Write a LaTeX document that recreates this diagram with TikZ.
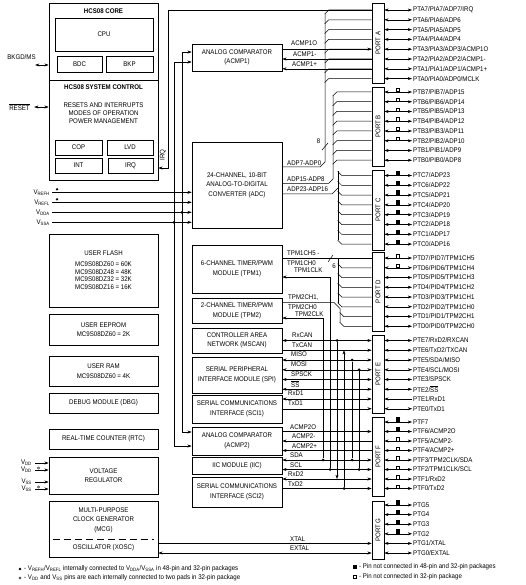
\documentclass[tikz,border=0pt]{standalone}
\usepackage{fontspec}
\setmainfont{Liberation Sans}[FakeStretch=0.9]
\usetikzlibrary{arrows.meta}
\newcommand{\dgfont}{\fontsize{6.8}{9.6}\selectfont}
\tikzset{
  blk/.style={draw, line width=0.7pt, inner sep=0pt, align=center, font=\dgfont},
  portbox/.style={draw, line width=0.7pt, minimum width=12, inner sep=0pt},
  sig/.style={line width=0.5pt},
  sglbl/.style={anchor=west, inner sep=0pt, font=\dgfont},
  pinlbl/.style={anchor=west, inner sep=1pt, font=\dgfont},
  opnmark/.style={draw, fill=white, line width=0.5pt, minimum width=3.4, minimum height=3.4, inner sep=0pt, anchor=south},
  filmark/.style={fill, minimum width=4, minimum height=4.4, inner sep=0pt, anchor=south},
  jdot/.style={circle, fill, inner sep=0pt, minimum size=3},
  refdot/.style={circle, fill, inner sep=0pt, minimum size=2.6},
  paddot/.style={circle, draw, line width=0.4pt, inner sep=0pt, minimum size=2.4}
}
\begin{document}
\begin{tikzpicture}[x=1pt,y=-1pt,>={Stealth[length=4.2pt,width=3pt]}]
  \path[use as bounding box, fill=white] (0,0) rectangle (526,585);

  % core and system control
  \node[blk, minimum width=109, minimum height=77] (core) at (103.5,41.5) {};
  \node[blk, minimum width=109, minimum height=100] (sysctl) at (103.5,130) {};
  \node[font=\dgfont\bfseries] (coret) at (103.5,11) {HCS08 CORE};
  \node[blk, minimum width=98, minimum height=33] (cpu) at (104,34.5) {CPU};
  \node[blk, minimum width=45, minimum height=16] (bdc) at (79.5,64) {BDC};
  \node[blk, minimum width=47, minimum height=16] (bkp) at (129.5,64) {BKP};
  \node[font=\dgfont\bfseries] (sysctlt) at (103.5,87) {HCS08 SYSTEM CONTROL};
  \node[font=\fontsize{6.8}{8}\selectfont, align=center] (sysctlx) at (103.5,113) {RESETS AND INTERRUPTS\\MODES OF OPERATION\\POWER MANAGEMENT};
  \node[blk, minimum width=47, minimum height=15] (cop) at (78.5,147.5) {COP};
  \node[blk, minimum width=46, minimum height=15] (lvd) at (130,147.5) {LVD};
  \node[blk, minimum width=47, minimum height=15] (intb) at (78.5,165.5) {INT};
  \node[blk, minimum width=45, minimum height=15] (irqb) at (130.5,165.5) {IRQ};

  % memories and left column
  \node[blk, minimum width=109, minimum height=73, font=\fontsize{6.8}{7.8}\selectfont] (flash) at (103.5,270.5) {USER FLASH\\[2.5pt]MC9S08DZ60 = 60K\\MC9S08DZ48 = 48K\\MC9S08DZ32 = 32K\\MC9S08DZ16 = 16K};
  \node[blk, minimum width=109, minimum height=31] (eeprom) at (103.5,329.5) {USER EEPROM\\MC9S08DZ60 = 2K};
  \node[blk, minimum width=109, minimum height=30] (ram) at (103.5,371) {USER RAM\\MC9S08DZ60 = 4K};
  \node[blk, minimum width=109, minimum height=20] (dbg) at (103.5,403) {DEBUG MODULE (DBG)};
  \node[blk, minimum width=109, minimum height=20] (rtc) at (103.5,439) {REAL-TIME COUNTER (RTC)};
  \node[blk, minimum width=109, minimum height=37] (vreg) at (103.5,475.5) {VOLTAGE\\REGULATOR};
  \node[blk, minimum width=109, minimum height=56] (mcg) at (103.5,529) {};
  \node[font=\dgfont, align=center] (mcgt) at (103.5,520) {MULTI-PURPOSE\\CLOCK GENERATOR\\(MCG)};
  \draw[dashed, dash pattern=on 7pt off 4pt, line width=0.7pt] ([xshift=4pt]mcg.west |- 0,539) -- ([xshift=-4pt]mcg.east |- 0,539);
  \node[font=\dgfont] (xosc) at (103.5,548) {OSCILLATOR (XOSC)};

  % peripheral modules
  \node[blk, minimum width=90, minimum height=27] (acmp1) at (237,57.5) {ANALOG COMPARATOR\\(ACMP1)};
  \node[blk, minimum width=90, minimum height=86] (adc) at (237,185) {24-CHANNEL, 10-BIT\\ANALOG-TO-DIGITAL\\CONVERTER (ADC)};
  \node[blk, minimum width=90, minimum height=48] (tpm1) at (237,269) {6-CHANNEL TIMER/PWM\\MODULE (TPM1)};
  \node[blk, minimum width=90, minimum height=25] (tpm2) at (237,310.5) {2-CHANNEL TIMER/PWM\\MODULE (TPM2)};
  \node[blk, minimum width=90, minimum height=25] (mscan) at (237,340.5) {CONTROLLER AREA\\NETWORK (MSCAN)};
  \node[blk, minimum width=90, minimum height=36] (spi) at (237,375) {SERIAL PERIPHERAL\\INTERFACE MODULE (SPI)};
  \node[blk, minimum width=90, minimum height=28] (sci1) at (237,409) {SERIAL COMMUNICATIONS\\INTERFACE (SCI1)};
  \node[blk, minimum width=90, minimum height=28] (acmp2) at (237,441) {ANALOG COMPARATOR\\(ACMP2)};
  \node[blk, minimum width=90, minimum height=17] (iic) at (237,465.5) {IIC MODULE (IIC)};
  \node[blk, minimum width=90, minimum height=30] (sci2) at (237,492) {SERIAL COMMUNICATIONS\\INTERFACE (SCI2)};

  % ports
  \node[portbox, minimum height=80] (portA) at (378,43) {};
  \node[portbox, minimum height=79] (portB) at (378,126.5) {};
  \node[portbox, minimum height=80] (portC) at (378,210) {};
  \node[portbox, minimum height=79] (portD) at (378,291.5) {};
  \node[portbox, minimum height=78] (portE) at (378,374) {};
  \node[portbox, minimum height=79] (portF) at (378,456.5) {};
  \node[portbox, minimum height=58] (portG) at (378,530) {};
  \node[rotate=90, font=\dgfont] (portAt) at (portA) {PORT A};
  \node[rotate=90, font=\dgfont] (portBt) at (portB) {PORT B};
  \node[rotate=90, font=\dgfont] (portCt) at (portC) {PORT C};
  \node[rotate=90, font=\dgfont] (portDt) at (portD) {PORT D};
  \node[rotate=90, font=\dgfont] (portEt) at (portE) {PORT E};
  \node[rotate=90, font=\dgfont] (portFt) at (portF) {PORT F};
  \node[rotate=90, font=\dgfont] (portGt) at (portG) {PORT G};

  % pins
  \foreach \txt [count=\k from 0] in {PTA7/PIA7/ADP7/IRQ, PTA6/PIA6/ADP6, PTA5/PIA5/ADP5, PTA4/PIA4/ADP4, PTA3/PIA3/ADP3/ACMP1O, PTA2/PIA2/ADP2/ACMP1-, PTA1/PIA1/ADP1/ACMP1+, PTA0/PIA0/ADP0/MCLK}{
    \pgfmathsetmacro\yy{10+9.8*\k}
    \node[pinlbl] (pa\k) at (412,\yy) {\txt};
    \draw[sig,<->] (portA.east |- pa\k.west) -- (pa\k.west);
  }
  \foreach \txt [count=\k from 0] in {PTB7/PIB7/ADP15, PTB6/PIB6/ADP14, PTB5/PIB5/ADP13, PTB4/PIB4/ADP12, PTB3/PIB3/ADP11, PTB2/PIB2/ADP10, PTB1/PIB1/ADP9, PTB0/PIB0/ADP8}{
    \pgfmathsetmacro\yy{92+9.75*\k}
    \node[pinlbl] (pb\k) at (412,\yy) {\txt};
    \draw[sig,<->] (portB.east |- pb\k.west) -- (pb\k.west);
  }
  \foreach \txt [count=\k from 0] in {PTC7/ADP23, PTC6/ADP22, PTC5/ADP21, PTC4/ADP20, PTC3/ADP19, PTC2/ADP18, PTC1/ADP17, PTC0/ADP16}{
    \pgfmathsetmacro\yy{175.5+9.8*\k}
    \node[pinlbl] (pc\k) at (412,\yy) {\txt};
    \draw[sig,<->] (portC.east |- pc\k.west) -- (pc\k.west);
  }
  \foreach \txt [count=\k from 0] in {PTD7/PID7/TPM1CH5, PTD6/PID6/TPM1CH4, PTD5/PID5/TPM1CH3, PTD4/PID4/TPM1CH2, PTD3/PID3/TPM1CH1, PTD2/PID2/TPM1CH0, PTD1/PID1/TPM2CH1, PTD0/PID0/TPM2CH0}{
    \pgfmathsetmacro\yy{258+9.75*\k}
    \node[pinlbl] (pd\k) at (412,\yy) {\txt};
    \draw[sig,<->] (portD.east |- pd\k.west) -- (pd\k.west);
  }
  \foreach \txt [count=\k from 0] in {PTE7/RxD2/RXCAN, PTE6/TxD2/TXCAN, PTE5/SDA/MISO, PTE4/SCL/MOSI, PTE3/SPSCK, PTE2/$\overline{\mbox{SS}}$, PTE1/RxD1, PTE0/TxD1}{
    \pgfmathsetmacro\yy{340.5+9.75*\k}
    \node[pinlbl] (pe\k) at (412,\yy) {\txt};
    \ifnum\k=6
      \draw[sig,<-] (portE.east |- pe\k.west) -- (pe\k.west);
    \else
      \draw[sig,<->] (portE.east |- pe\k.west) -- (pe\k.west);
    \fi
  }
  \foreach \txt [count=\k from 0] in {PTF7, PTF6/ACMP2O, PTF5/ACMP2-, PTF4/ACMP2+, PTF3/TPM2CLK/SDA, PTF2/TPM1CLK/SCL, PTF1/RxD2, PTF0/TxD2}{
    \pgfmathsetmacro\yy{422+9.5*\k}
    \node[pinlbl] (pf\k) at (412,\yy) {\txt};
    \draw[sig,<->] (portF.east |- pf\k.west) -- (pf\k.west);
  }
  \foreach \txt [count=\k from 0] in {PTG5, PTG4, PTG3, PTG2, PTG1/XTAL, PTG0/EXTAL}{
    \pgfmathsetmacro\yy{505+9.6*\k}
    \node[pinlbl] (pg\k) at (412,\yy) {\txt};
    \draw[sig,<->] (portG.east |- pg\k.west) -- (pg\k.west);
  }

  % package markers
  \foreach \k in {0,...,5} \node[opnmark] (mb\k) at (398,0 |- pb\k.west) {};
  \foreach \k in {0,...,7} \node[filmark] (mc\k) at (398,0 |- pc\k.west) {};
  \foreach \k in {0,1} \node[opnmark] (md\k) at (398,0 |- pd\k.west) {};
  \foreach \k in {0,1} \node[filmark] (mf\k) at (398,0 |- pf\k.west) {};
  \foreach \k in {2,...,7} \node[opnmark] (mf\k) at (398,0 |- pf\k.west) {};
  \foreach \k in {0,...,3} \node[filmark] (mg\k) at (398,0 |- pg\k.west) {};

  % port A: IRQ, ACMP1, ADP7-ADP0
  \draw[sig,->] (portA.west |- pa0.west) -| (168,168) -- (sysctl.east |- 0,168);
  \node[rotate=90, font=\dgfont] (irqlbl) at (163,155) {IRQ};
  \draw[sig,->] (acmp1.east |- pa4.west) -- (portA.west |- pa4.west);
  \draw[sig,<-] (acmp1.east |- pa5.west) -- (portA.west |- pa5.west);
  \draw[sig,<-] (acmp1.east |- pa6.west) -- (portA.west |- pa6.west);
  \node[sglbl] (l1) at (291,43.5) {ACMP1O};
  \node[sglbl] (l2) at (293,54) {ACMP1-};
  \node[sglbl] (l3) at (292,64) {ACMP1+};
  \foreach \k in {0,...,7} \draw[sig] (portA.west |- pa\k.west) -- ++(-43,0) -- ++(-4,4);
  \draw[sig] (325,14) -- (325,162) -- (320,167) -- (adc.east |- 0,167);
  \draw[sig] (322,150) -- (328,143);
  \node[font=\dgfont] (bus8) at (318.5,141) {8};
  \node[sglbl] (l4) at (287,163) {ADP7-ADP0};

  % port B and C buses
  \foreach \k in {0,...,7} \draw[sig] (portB.west |- pb\k.west) -- ++(-35,0) -- ++(-4,4);
  \draw[sig] (333,96) -- (333,179) -- (328.5,183.5) -- (adc.east |- 0,183.5);
  \node[sglbl] (l5) at (287,179) {ADP15-ADP8};
  \foreach \k in {0,...,7} \draw[sig] (portC.west |- pc\k.west) -- ++(-30,0) -- ++(-4,-4);
  \draw[sig] (338,171.5) -- (338,240.1);
  \draw[sig] (adc.east |- 0,194) -- (332,194) -- (338,188);
  \node[sglbl] (l6) at (287,189) {ADP23-ADP16};

  % port D: timers
  \draw[sig] (tpm1.east |- pd0.west) -- (portD.west |- pd0.west);
  \foreach \k in {1,...,5} \draw[sig] (portD.west |- pd\k.west) -- ++(-30,0) -- ++(-4,-4);
  \draw[sig] (338,0 |- pd0.west) -- (338,302.75);
  \draw[sig] (328,262) -- (333,255);
  \node[font=\dgfont] (bus6) at (334,266) {6};
  \node[sglbl] (l7) at (287,253) {TPM1CH5 -};
  \node[sglbl] (l8) at (287,263) {TPM1CH0};
  \draw[sig] (tpm2.east |- 0,302.5) -- (334,302.5) -- (340,308.5) -- (340,322.25);
  \foreach \k in {6,7} \draw[sig] (portD.west |- pd\k.west) -- ++(-28,0) -- ++(-4,-4);
  \node[sglbl] (l9) at (288,297.5) {TPM2CH1,};
  \node[sglbl] (l10) at (288,307) {TPM2CH0};
  \node[jdot] (jt1) at (330,0 |- pf5.west) {};
  \draw[sig,->] (jt1) -- (330,277) -- (tpm1.east |- 0,277);
  \node[sglbl] (l11) at (294,270.5) {TPM1CLK};
  \node[jdot] (jt2) at (323,0 |- pf4.west) {};
  \draw[sig,->] (jt2) -- (323,318) -- (tpm2.east |- 0,318);
  \node[sglbl] (l12) at (295,314) {TPM2CLK};

  % port E: MSCAN, SPI, SCI1
  \draw[sig,<->] (mscan.east |- pe0.west) -- (portE.west |- pe0.west);
  \draw[sig,->] (mscan.east |- pe1.west) -- (portE.west |- pe1.west);
  \foreach \k in {2,...,5} \draw[sig,<->] (spi.east |- pe\k.west) -- (portE.west |- pe\k.west);
  \draw[sig,<->] (sci1.east |- pe6.west) -- (portE.west |- pe6.west);
  \draw[sig,->] (sci1.east |- pe7.west) -- (portE.west |- pe7.west);
  \node[sglbl] (l13) at (292,335) {RxCAN};
  \node[sglbl] (l14) at (292,345) {TxCAN};
  \node[sglbl] (l15) at (291,354.5) {MISO};
  \node[sglbl] (l16) at (291,364) {MOSI};
  \node[sglbl] (l17) at (291,374) {SPSCK};
  \node[sglbl] (l18) at (291,384) {$\overline{\mbox{SS}}$};
  \node[sglbl] (l19) at (288,393.5) {RxD1};
  \node[sglbl] (l20) at (288,403) {TxD1};

  % port F: ACMP2, IIC, SCI2
  \draw[sig,->] (acmp2.east |- pf1.west) -- (portF.west |- pf1.west);
  \draw[sig,<-] (acmp2.east |- pf2.west) -- (portF.west |- pf2.west);
  \draw[sig,<-] (acmp2.east |- pf3.west) -- (portF.west |- pf3.west);
  \draw[sig,<->] (iic.east |- pf4.west) -- (portF.west |- pf4.west);
  \draw[sig,<->] (iic.east |- pf5.west) -- (portF.west |- pf5.west);
  \draw[sig,<->] (sci2.east |- pf6.west) -- (portF.west |- pf6.west);
  \draw[sig,->] (sci2.east |- pf7.west) -- (portF.west |- pf7.west);
  \node[sglbl] (l21) at (290,427) {ACMP2O};
  \node[sglbl] (l22) at (292,436.5) {ACMP2-};
  \node[sglbl] (l23) at (292,446) {ACMP2+};
  \node[sglbl] (l24) at (290,455.5) {SDA};
  \node[sglbl] (l25) at (290,465) {SCL};
  \node[sglbl] (l26) at (288,474.5) {RxD2};
  \node[sglbl] (l27) at (288,484) {TxD2};

  % cross links between port E and port F signals
  \node[jdot] (jrx) at (337,0 |- pe0.west) {};
  \draw[sig,->] (jrx) -- (337,0 |- pf6.west);
  \node[jdot] (jtx) at (344,0 |- pf7.west) {};
  \draw[sig,->] (jtx) -- (344,0 |- pe1.west);
  \node[jdot] (jsda1) at (352,0 |- pe2.west) {};
  \node[jdot] (jsda2) at (352,0 |- pf4.west) {};
  \draw[sig] (jsda1) -- (jsda2);
  \node[jdot] (jscl1) at (359,0 |- pe3.west) {};
  \node[jdot] (jscl2) at (359,0 |- pf5.west) {};
  \draw[sig] (jscl1) -- (jscl2);

  % port G: oscillator
  \draw[sig,->] (mcg.east |- pg4.west) -- (portG.west |- pg4.west);
  \draw[sig,<->] (mcg.east |- pg5.west) -- (portG.west |- pg5.west);
  \node[sglbl] (l28) at (290,539) {XTAL};
  \node[sglbl] (l29) at (290,548.5) {EXTAL};

  % left side signals
  \node[font=\dgfont] (bkgd) at (21.5,57) {BKGD/MS};
  \draw[sig,<->] ([xshift=-4pt,yshift=-8pt]bkgd.east) -- (core.west |- 0,65);
  \node[font=\dgfont] (reset) at (19.5,107) {$\overline{\mbox{RESET}}$};
  \draw[sig,<->] ([xshift=1pt]reset.east) -- (sysctl.west |- reset.east);
  \node[sglbl, anchor=east] (vrefh) at (50,192.3) {V\textsubscript{REFH}};
  \node[sglbl, anchor=east] (vrefl) at (50,202.3) {V\textsubscript{REFL}};
  \node[sglbl, anchor=east] (vdda) at (50,212.3) {V\textsubscript{DDA}};
  \node[sglbl, anchor=east] (vssa) at (50,222.3) {V\textsubscript{SSA}};
  \draw[sig,->] ([xshift=2pt]vrefh.east) -- (adc.west |- vrefh.east);
  \draw[sig,->] ([xshift=2pt]vrefl.east) -- (adc.west |- vrefl.east);
  \draw[sig,->] ([xshift=2pt]vdda.east) -- (adc.west |- vdda.east);
  \draw[sig,->] ([xshift=2pt]vssa.east) -- (adc.west |- vssa.east);
  \node[refdot] (mrh) at (57,189.3) {};
  \node[refdot] (mrl) at (57,199.3) {};
  \draw[sig,<->] (acmp1.west |- 0,52) -| (182,432) -- (acmp2.west |- 0,432);
  \draw[sig,<->] (acmp1.west |- 0,62) -| (174,446) -- (acmp2.west |- 0,446);
  \node[jdot] (jdda) at (182,0 |- vdda.east) {};
  \node[jdot] (jssa) at (174,0 |- vssa.east) {};

  \node[sglbl, anchor=east] (vdd1) at (32,463) {V\textsubscript{DD}};
  \node[sglbl, anchor=east] (vdd2) at (32,470) {V\textsubscript{DD}};
  \node[sglbl, anchor=east] (vss1) at (32,482) {V\textsubscript{SS}};
  \node[sglbl, anchor=east] (vss2) at (32,489) {V\textsubscript{SS}};
  \foreach \p in {vdd1,vdd2,vss1,vss2}
    \draw[sig,->] ([xshift=3pt]\p.east) -- (vreg.west |- \p.east);
  \node[paddot] (mpd) at (38.5,468) {};
  \node[paddot] (mps) at (38.5,487) {};

  % notes
  \node[refdot] (nb1) at (20,569) {};
  \node[sglbl] (nt1) at (24,569) {- V\textsubscript{REFH}/V\textsubscript{REFL} internally connected to V\textsubscript{DDA}/V\textsubscript{SSA} in 48-pin and 32-pin packages};
  \node[paddot] (nb2) at (20,578) {};
  \node[sglbl] (nt2) at (24,578) {- V\textsubscript{DD} and V\textsubscript{SS} pins are each internally connected to two pads in 32-pin package};
  \node[filmark, anchor=center] (nb3) at (355,567) {};
  \node[sglbl] (nt3) at (359,567) {- Pin not connected in 48-pin and 32-pin packages};
  \node[opnmark, anchor=center] (nb4) at (355,577) {};
  \node[sglbl] (nt4) at (359,577) {- Pin not connected in 32-pin package};
\end{tikzpicture}
\end{document}
